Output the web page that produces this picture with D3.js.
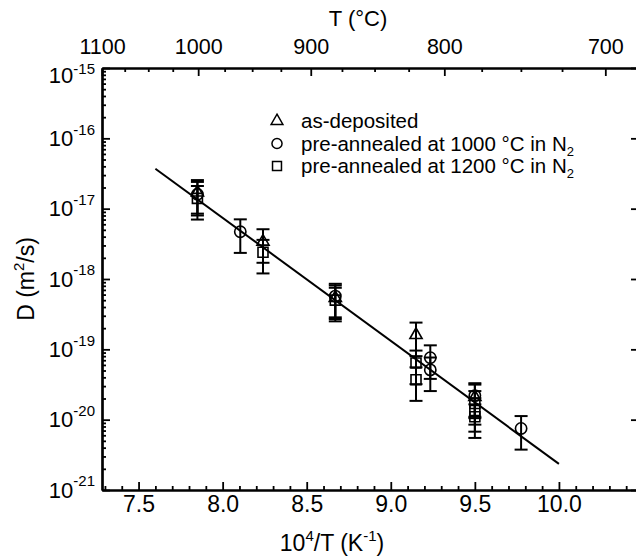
<!DOCTYPE html>
<html>
<head>
<meta charset="utf-8">
<script src="https://cdn.jsdelivr.net/npm/d3@7"></script>
<style>
  body { margin: 0; background: #fff; }
  text { font-family: "Liberation Sans", Arial, Helvetica, sans-serif; fill: #000; }
</style>
</head>
<body>
<div id="chart"></div>
<script>
const width = 636, height = 557;
const margin = {top: 68, left: 102, bottom: 490};

// measured points, x = 10^4/T (K^-1), D in m^2/s
const asDepX = [7.85, 8.24, 8.67, 9.15, 9.50];
const asDepD = [1.7e-17, 3.4e-18, 5.4e-19, 1.6e-19, 2.1e-20];
const ann1000X = [7.85, 8.105, 8.67, 9.235, 9.235, 9.50, 9.775];
const ann1000D = [1.6e-17, 4.7e-18, 5.7e-19, 7.6e-20, 5.1e-20, 2.2e-20, 7.5e-21];
const ann1200X = [7.85, 8.24, 8.67, 9.15, 9.15, 9.50, 9.50, 9.50];
const ann1200D = [1.4e-17, 2.4e-18, 5.0e-19, 6.4e-20, 3.7e-20, 1.7e-20, 1.35e-20, 1.1e-20];
const relErr = 0.5;   // error bars are +-50 %

// Arrhenius fit line
const fitX = [7.6, 10.0];
const fitD = [3.7e-17, 2.35e-21];

// ticks
const xMajor = [7.5, 8.0, 8.5, 9.0, 9.5, 10.0];
const tMajor = [1100, 1000, 900, 800, 700];
const yMajor = [1e-21, 1e-20, 1e-19, 1e-18, 1e-17, 1e-16, 1e-15];

const legendItems = [
  {shape: d3.symbolTriangle, label: "as-deposited"},
  {shape: d3.symbolCircle, label: "pre-annealed at 1000 \u00B0C in N", sub: "2"},
  {shape: d3.symbolSquare, label: "pre-annealed at 1200 \u00B0C in N", sub: "2"}
];

const toInv = t => 1e4 / (t + 273.15);

const xScale = d3.scaleLinear()
  .domain([toInv(1100), 10.5])
  .range([margin.left, 643]);

const yScale = d3.scaleLog()
  .domain([1e-21, 1e-15])
  .range([margin.bottom, margin.top]);

const svg = d3.select("#chart").append("svg")
  .attr("width", width)
  .attr("height", height);

/*******************************/
/*            Axes             */
/*******************************/
const xMinor = d3.range(73, 105).map(v => v / 10).filter(v => !xMajor.includes(v));
const tMinor = d3.range(1075, 675, -25).filter(t => !tMajor.includes(t));
const yMinor = [];
yMajor.slice(0, -1).forEach(m => d3.range(2, 10).forEach(k => yMinor.push(m * k)));

const styleAxis = g => {
  g.selectAll(".domain").attr("stroke-width", 2.2);
  g.selectAll(".tick line").attr("stroke-width", 1.8);
};

// bottom
svg.append("g")
  .attr("transform", `translate(0, ${margin.bottom})`)
  .call(d3.axisBottom(xScale).tickValues(xMinor).tickSize(-4).tickSizeOuter(0).tickFormat(""))
  .call(styleAxis);
svg.append("g")
  .attr("transform", `translate(0, ${margin.bottom})`)
  .call(d3.axisBottom(xScale).tickValues(xMajor).tickSize(-8).tickSizeOuter(0)
    .tickPadding(6).tickFormat(d3.format(".1f")))
  .call(styleAxis)
  .call(g => g.selectAll("text").attr("font-size", 23));

// top (temperature)
svg.append("g")
  .attr("transform", `translate(0, ${margin.top})`)
  .call(d3.axisTop(xScale).tickValues(tMinor.map(toInv)).tickSize(-4).tickSizeOuter(0).tickFormat(""))
  .call(styleAxis);
svg.append("g")
  .attr("transform", `translate(0, ${margin.top})`)
  .call(d3.axisTop(xScale).tickValues(tMajor.map(toInv)).tickSize(-8).tickSizeOuter(0)
    .tickPadding(14).tickFormat(v => Math.round(1e4 / v - 273.15)))
  .call(styleAxis)
  .call(g => g.selectAll("text").attr("font-size", 21.5));

// left
svg.append("g")
  .attr("transform", `translate(${margin.left}, 0)`)
  .call(d3.axisLeft(yScale).tickValues(yMinor).tickSize(-4).tickSizeOuter(0).tickFormat(""))
  .call(styleAxis);
svg.append("g")
  .attr("transform", `translate(${margin.left}, 0)`)
  .call(d3.axisLeft(yScale).tickValues(yMajor).tickSize(-8).tickSizeOuter(0).tickPadding(7))
  .call(styleAxis)
  .call(g => g.selectAll(".tick text")
    .attr("font-size", 22)
    .attr("dy", d => d === 1e-15 ? "0.66em" : "0.32em")
    .each(function(d) {
      const t = d3.select(this).text("10");
      t.append("tspan")
        .attr("dy", d === 1e-15 ? "-0.6em" : "-0.75em")
        .attr("font-size", 15)
        .text(Math.round(Math.log10(d)));
    }));

// right (mostly outside the picture)
svg.append("g")
  .attr("transform", `translate(${xScale(10.5)}, 0)`)
  .call(d3.axisRight(yScale).tickValues(yMinor).tickSize(-5).tickSizeOuter(0).tickFormat(""))
  .call(styleAxis);
svg.append("g")
  .attr("transform", `translate(${xScale(10.5)}, 0)`)
  .call(d3.axisRight(yScale).tickValues(yMajor).tickSize(-12).tickSizeOuter(0).tickFormat(""))
  .call(styleAxis);

// axis titles
const xTitle = svg.append("text")
  .attr("x", 332).attr("y", 551)
  .attr("text-anchor", "middle")
  .attr("font-size", 23)
  .text("10");
xTitle.append("tspan").attr("dy", -10).attr("font-size", 15).text("4");
xTitle.append("tspan").attr("dy", 10).text("/T (K");
xTitle.append("tspan").attr("dy", -10).attr("font-size", 15).text("-1");
xTitle.append("tspan").attr("dy", 10).text(")");

svg.append("text")
  .attr("x", 358).attr("y", 26)
  .attr("text-anchor", "middle")
  .attr("font-size", 22)
  .text("T (\u00B0C)");

const yTitle = svg.append("text")
  .attr("transform", `translate(34, 279) rotate(-90)`)
  .attr("text-anchor", "middle")
  .attr("font-size", 23)
  .text("D (m");
yTitle.append("tspan").attr("dy", -10).attr("font-size", 15).text("2");
yTitle.append("tspan").attr("dy", 10).text("/s)");

/*******************************/
/*        Fit and points       */
/*******************************/
svg.append("path")
  .attr("d", d3.line().x(d => xScale(d[0])).y(d => yScale(d[1]))(d3.zip(fitX, fitD)))
  .attr("fill", "none")
  .attr("stroke", "#000")
  .attr("stroke-width", 2);

const series = [
  {x: asDepX, d: asDepD, shape: d3.symbolTriangle, size: 64},
  {x: ann1000X, d: ann1000D, shape: d3.symbolCircle, size: 100},
  {x: ann1200X, d: ann1200D, shape: d3.symbolSquare, size: 100}
];

const capW = 6.5;
series.forEach(s => {
  const pts = d3.zip(s.x, s.d);
  const g = svg.append("g").attr("stroke", "#000").attr("stroke-width", 2).attr("fill", "none");
  const eb = g.selectAll(".eb").data(pts).join("g");
  eb.append("line")
    .attr("x1", d => xScale(d[0])).attr("x2", d => xScale(d[0]))
    .attr("y1", d => yScale(d[1] * (1 + relErr))).attr("y2", d => yScale(d[1] * (1 - relErr)));
  eb.append("line")
    .attr("x1", d => xScale(d[0]) - capW).attr("x2", d => xScale(d[0]) + capW)
    .attr("y1", d => yScale(d[1] * (1 + relErr))).attr("y2", d => yScale(d[1] * (1 + relErr)));
  eb.append("line")
    .attr("x1", d => xScale(d[0]) - capW).attr("x2", d => xScale(d[0]) + capW)
    .attr("y1", d => yScale(d[1] * (1 - relErr))).attr("y2", d => yScale(d[1] * (1 - relErr)));
  g.selectAll(".pt").data(pts).join("path")
    .attr("transform", d => `translate(${xScale(d[0])}, ${yScale(d[1])})`)
    .attr("d", d3.symbol(s.shape, s.size))
    .attr("stroke-width", 1.6);
});

/*******************************/
/*           Legend            */
/*******************************/
const legend = svg.append("g").attr("transform", "translate(277, 121)");
legendItems.forEach((item, i) => {
  const row = legend.append("g").attr("transform", `translate(0, ${i * 22.5})`);
  row.append("path")
    .attr("d", d3.symbol(item.shape, item.shape === d3.symbolTriangle ? 60 : 80))
    .attr("fill", "none")
    .attr("stroke", "#000")
    .attr("stroke-width", 1.5);
  const t = row.append("text")
    .attr("x", 24).attr("y", 7)
    .attr("font-size", 20.5)
    .text(item.label);
  if (item.sub) t.append("tspan").attr("dy", 5).attr("font-size", 13).text(item.sub);
});
</script>
</body>
</html>
